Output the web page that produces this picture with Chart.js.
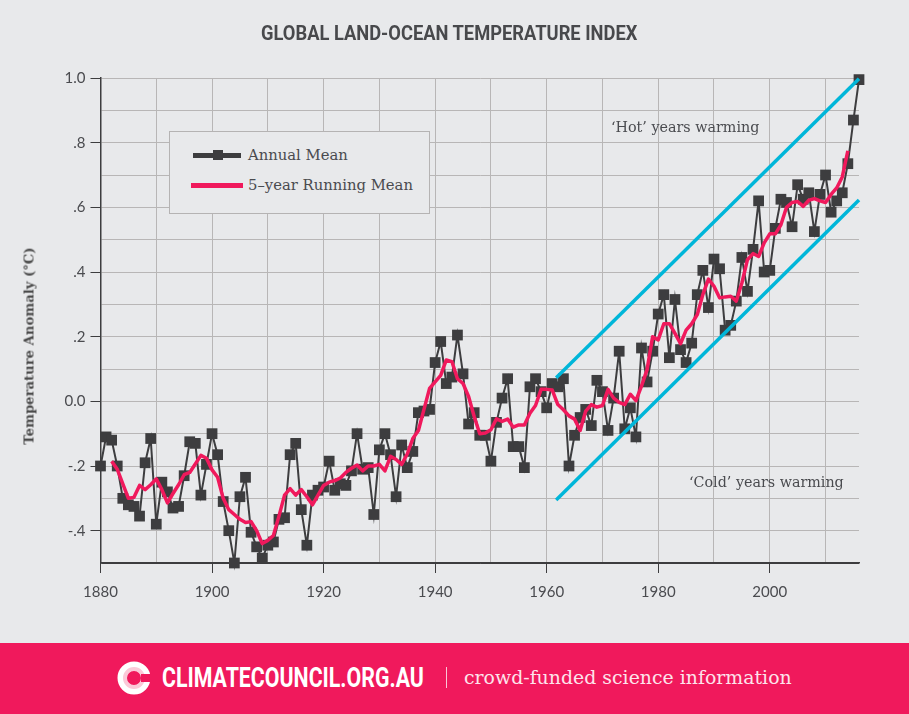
<!DOCTYPE html>
<html>
<head>
<meta charset="utf-8">
<title>Global Land-Ocean Temperature Index</title>
<script src="https://cdn.jsdelivr.net/npm/chart.js@4"></script>
<style>
  html, body { margin: 0; padding: 0; background: #e8e9eb; }
  #page { position: relative; width: 909px; height: 714px; overflow: hidden; background: #e8e9eb; }
  canvas { position: absolute; left: 0; top: 0; }
  .txt { position: absolute; white-space: nowrap; color: #4a4b4f; }
  #title { left: 261px; top: 21px; font: bold 21px Roboto, sans-serif; color: #48494c; transform-origin: 0 0; transform: scaleX(.872); }
  #ytitle { left: 29px; top: 345.5px; font: bold 13.2px "DejaVu Serif", serif; transform: translate(-50%, -50%) rotate(-90deg); color: #4a4a4a; }
  #legend { position: absolute; left: 169px; top: 131px; width: 259px; height: 81px; border: 1px solid #b5b3b3; background: #e8e9eb; }
  .swatch { position: absolute; height: 5px; }
  #hot { left: 611px; top: 119px; font: 14.3px "DejaVu Serif", serif; }
  #cold { left: 689px; top: 474px; font: 14.3px "DejaVu Serif", serif; }
  #footer { position: absolute; left: 0; top: 643px; width: 909px; height: 71px; background: #f0195c; }
  #site { position: absolute; left: 162px; top: 19px; font: bold 27px Roboto, sans-serif; color: #fff; white-space: nowrap; transform-origin: 0 0; transform: scaleX(.79); }
  #sep { position: absolute; left: 446px; top: 24px; width: 1px; height: 21px; background: #f9c6d6; }
  #tag { position: absolute; left: 464px; top: 23px; font: 18.9px "DejaVu Serif", serif; color: #fde3eb; white-space: nowrap; }
  #logo { position: absolute; left: 117px; top: 18px; }
</style>
</head>
<body>
<div id="page">
  <canvas id="tempChart" width="909" height="714"></canvas>
  <div class="txt" id="title">GLOBAL LAND-OCEAN TEMPERATURE INDEX</div>
  <div class="txt" id="ytitle">Temperature Anomaly (°C)</div>
  <div id="legend">
    <div class="swatch" style="left:23px;top:21px;width:48px;background:#3d3d3f"></div>
    <div class="swatch" style="left:43px;top:18px;width:10px;height:10px;background:#3d3d3f"></div>
    <div class="txt" style="left:78px;top:14px;font:14.8px 'DejaVu Serif',serif">Annual Mean</div>
    <div class="swatch" style="left:21px;top:51px;width:52px;background:#f0195c"></div>
    <div class="txt" style="left:78px;top:44px;font:14.8px 'DejaVu Serif',serif">5–year Running Mean</div>
  </div>
  <div class="txt" id="hot">‘Hot’ years warming</div>
  <div class="txt" id="cold">‘Cold’ years warming</div>
  <div id="footer">
    <svg id="logo" width="34" height="34" viewBox="0 0 34 34">
      <circle cx="17" cy="17" r="12" fill="none" stroke="#fff" stroke-width="9"/>
      <circle cx="17" cy="17" r="9" fill="none" stroke="#fbc9d8" stroke-width="4"/>
      <rect x="24" y="13" width="11" height="8" fill="#f0195c"/>
    </svg>
    <div id="site">CLIMATECOUNCIL.ORG.AU</div>
    <div id="sep"></div>
    <div id="tag">crowd-funded science information</div>
  </div>
</div>
<script>
// Annual mean anomaly, 1880 to 2016
const annualStart = 1880;
const annualMean = [
  -.20, -.11, -.12, -.20, -.30, -.32, -.325, -.355, -.19, -.115,
  -.38, -.25, -.28, -.33, -.325, -.23, -.125, -.13, -.29, -.195,
  -.10, -.165, -.31, -.40, -.50, -.295, -.235, -.405, -.45, -.485,
  -.445, -.435, -.365, -.36, -.165, -.13, -.335, -.445, -.29, -.275,
  -.265, -.185, -.275, -.255, -.26, -.215, -.10, -.21, -.205, -.35,
  -.15, -.10, -.165, -.295, -.135, -.205, -.155, -.035, -.03, -.025,
  .12, .185, .055, .075, .205, .085, -.07, -.035, -.105, -.105,
  -.185, -.065, .01, .07, -.14, -.14, -.205, .045, .07, .03,
  -.02, .055, .045, .07, -.20, -.105, -.05, -.025, -.075, .065,
  .03, -.09, .01, .155, -.085, -.02, -.11, .165, .06, .155,
  .27, .33, .135, .315, .16, .12, .18, .33, .405, .29,
  .44, .41, .22, .235, .31, .445, .34, .47, .62, .40,
  .405, .535, .625, .615, .54, .67, .625, .645, .525, .64,
  .70, .585, .62, .645, .735, .87, .995
];

// 5-year running mean, 1882 to 2014
const runningStart = 1882;
const runningMean = [
  -.185, -.21, -.255, -.30, -.297, -.26, -.273, -.258,
  -.24, -.273, -.314, -.285, -.258, -.227, -.22, -.194, -.167, -.176,
  -.212, -.235, -.30, -.335, -.35, -.365, -.375, -.372, -.40, -.44,
  -.43, -.415, -.355, -.29, -.27, -.29, -.273, -.295, -.32, -.29,
  -.26, -.25, -.245, -.237, -.22, -.207, -.197, -.215, -.20, -.20,
  -.195, -.215, -.17, -.18, -.195, -.163, -.115, -.09, -.025, .04,
  .06, .08, .128, .123, .07, .055, .015, -.047, -.10, -.098,
  -.088, -.054, -.062, -.055, -.08, -.073, -.073, -.037, -.013, .037,
  .037, .035, -.01, -.026, -.045, -.055, -.09, -.03, -.01, -.018,
  -.013, .037, .01, -.003, -.01, .022, .002, .047, .098, .20,
  .19, .24, .24, .21, .178, .22, .24, .268, .33, .378,
  .356, .32, .323, .325, .31, .366, .438, .457, .448, .49,
  .518, .518, .546, .60, .615, .618, .603, .622, .627, .62,
  .615, .64, .66, .694, .775
];

// Trend guides
const hotYears = [1961.7, 2016];
const hotValues = [.073, .998];
const coldYears = [1961.7, 2016];
const coldValues = [-.305, .623];

const xLabels = [1880, 1900, 1920, 1940, 1960, 1980, 2000];
const yLabels = { '1.0': '1.0', '0.8': '.8', '0.6': '.6', '0.4': '.4', '0.2': '.2', '0.0': '0.0', '-0.2': '-.2', '-0.4': '-.4' };

const toPoints = (xs, ys) => ys.map((y, i) => ({ x: xs[i], y }));
const fromStart = (start, ys) => ys.map((y, i) => ({ x: start + i, y }));

const isYLabel = v => Object.hasOwn(yLabels, (Math.round(v * 10) / 10).toFixed(1));

new Chart(document.getElementById('tempChart').getContext('2d'), {
  type: 'line',
  data: {
    datasets: [
      { data: toPoints(hotYears, hotValues), borderColor: '#00b6d9', borderWidth: 3.5, pointRadius: 0, clip: false },
      { data: toPoints(coldYears, coldValues), borderColor: '#00b6d9', borderWidth: 3.5, pointRadius: 0, clip: false },
      { data: fromStart(runningStart, runningMean), borderColor: '#f0195c', borderWidth: 3.5, pointRadius: 0, borderJoinStyle: 'round', clip: false },
      { data: fromStart(annualStart, annualMean), borderColor: '#3d3d3f', borderWidth: 2, pointStyle: 'rect', pointRadius: 7.6, pointBackgroundColor: '#3d3d3f', pointBorderWidth: 0, clip: false }
    ]
  },
  options: {
    responsive: false,
    animation: false,
    devicePixelRatio: 1,
    layout: { padding: { left: 0, right: 50, top: 78, bottom: 0 } },
    plugins: { legend: { display: false }, tooltip: { enabled: false } },
    scales: {
      x: {
        type: 'linear',
        min: 1880,
        max: 2016,
        afterFit: s => { s.height = 151; },
        border: { color: '#3d3d3f', width: 1.5 },
        grid: {
          color: '#b8b6b6',
          lineWidth: 1,
          tickLength: 10,
          tickColor: c => xLabels.includes(c.tick.value) ? '#3d3d3f' : 'transparent'
        },
        ticks: {
          stepSize: 10,
          includeBounds: false,
          maxRotation: 0,
          autoSkip: false,
          padding: 10,
          color: '#4a4b4f',
          font: { family: 'Lato', size: 15 },
          callback: v => xLabels.includes(v) ? String(v) : ''
        }
      },
      y: {
        min: -.5,
        max: 1,
        afterFit: s => { s.width = 100.5; },
        border: { color: '#3d3d3f', width: 1.5 },
        grid: {
          color: c => c.tick.value === -.5 ? '#3d3d3f' : '#b8b6b6',
          lineWidth: 1,
          tickLength: 10,
          tickColor: c => isYLabel(c.tick.value) ? '#3d3d3f' : 'transparent'
        },
        ticks: {
          stepSize: .1,
          autoSkip: false,
          padding: 5,
          color: '#4a4b4f',
          font: { family: 'Lato', size: 15 },
          callback: v => yLabels[(Math.round(v * 10) / 10).toFixed(1)] || ''
        }
      }
    }
  }
});
</script>
</body>
</html>
